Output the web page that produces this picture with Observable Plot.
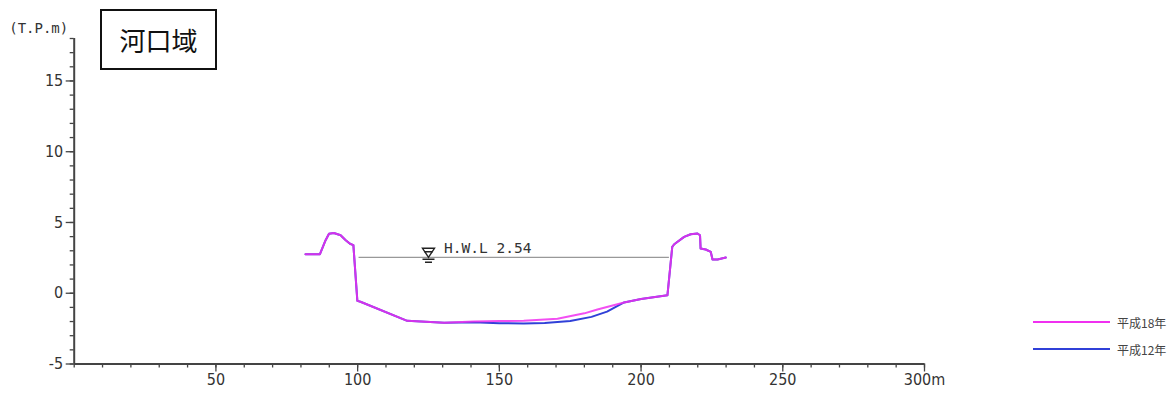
<!DOCTYPE html>
<html>
<head>
<meta charset="utf-8">
<script src="https://cdn.jsdelivr.net/npm/d3@7"></script>
<script src="https://cdn.jsdelivr.net/npm/@observablehq/plot@0.6"></script>
<style>
  body { margin: 0; background: #fff; }
  #wrap { position: relative; width: 1176px; height: 397px; overflow: hidden; }
  #title { position: absolute; left: 100px; top: 9px; width: 113px; height: 57px; border: 2px solid #111;
           font-family: "Noto Sans CJK JP", sans-serif; font-size: 26px; line-height: 57px; text-align: center; color: #111; }
  .leg { position: absolute; left: 1033px; height: 14px; display: flex; align-items: center;
         font-family: "Noto Sans CJK JP", sans-serif; font-size: 12px; color: #444; }
  .leg span.l { display: inline-block; width: 77px; height: 2.5px; margin-right: 7px; }
</style>
</head>
<body>
<div id="wrap">
  <div id="chart"></div>
  <div id="title"></div>
  <div id="legend"></div>
</div>
<script>
// ---- data ----
const seriesNames = ["平成18年", "平成12年"];
const seriesColors = ["#f030f0", "#3040d8"];

const h18X = [81.6, 86.7, 88.7, 89.9, 91.6, 94.0, 95.8, 97.3, 98.5, 99.9, 101.0, 117.5, 130.5, 141.0, 150.0, 158.6, 170.5, 180.0, 184.6, 194.0, 200.0, 209.3, 211.0, 211.7, 215.2, 217.5, 219.9, 220.8, 221.0, 222.8, 224.6, 225.2, 227.0, 229.9];
const h18Y = [2.76, 2.76, 3.75, 4.2, 4.26, 4.1, 3.75, 3.5, 3.4, -0.54, -0.6, -1.95, -2.08, -2.0, -1.97, -1.95, -1.8, -1.42, -1.15, -0.65, -0.4, -0.15, 3.27, 3.46, 3.98, 4.17, 4.22, 4.1, 3.16, 3.09, 2.92, 2.38, 2.38, 2.52];

const h12X = [81.6, 86.7, 88.7, 89.9, 91.6, 94.0, 95.8, 97.3, 98.5, 99.9, 101.0, 117.5, 130.5, 141.0, 150.0, 158.6, 166.0, 175.0, 182.5, 188.0, 194.0, 200.0, 209.3, 211.0, 211.7, 215.2, 217.5, 219.9, 220.8, 221.0, 222.8, 224.6, 225.2, 227.0, 229.9];
const h12Y = [2.76, 2.76, 3.75, 4.2, 4.26, 4.1, 3.75, 3.5, 3.4, -0.54, -0.6, -1.95, -2.08, -2.05, -2.12, -2.14, -2.1, -1.96, -1.67, -1.3, -0.65, -0.4, -0.15, 3.27, 3.46, 3.98, 4.17, 4.22, 4.1, 3.16, 3.09, 2.92, 2.38, 2.38, 2.52];

const hwlValue = 2.54;
const hwlLabel = "H.W.L 2.54";
const hwlFrom = 100.5, hwlTo = 210.0, hwlMarkX = 125, hwlTextX = 130.5;

const yMajorTicks = [-5, 0, 5, 10, 15];
const yMinorTicks = d3.range(-5, 19, 1);
const xMajorTicks = [50, 100, 150, 200, 250, 300];
const xMajorLabels = ["50", "100", "150", "200", "250", "300m"];
const xMinorTicks = d3.range(0, 301, 10);
const yUnit = "(T.P.m)";
const titleText = "河口域";

// ---- build ----
const h18 = h18X.map((x, i) => ({x, y: h18Y[i]}));
const h12 = h12X.map((x, i) => ({x, y: h12Y[i]}));

const axisFont = "'Liberation Sans Narrow', 'DejaVu Sans Condensed', 'Noto Sans', sans-serif";

const hwlSymbol = {
  draw(ctx) {
    ctx.moveTo(-6, -9); ctx.lineTo(6, -9); ctx.lineTo(0, 0); ctx.closePath();
    ctx.moveTo(-4.5, -5.5); ctx.lineTo(4.5, -5.5);
    ctx.moveTo(-6, 2); ctx.lineTo(6, 2);
    ctx.moveTo(-3.5, 5); ctx.lineTo(3.5, 5);
  }
};

const plot = Plot.plot({
  width: 1176,
  height: 397,
  marginLeft: 73.7,
  marginRight: 252,
  marginTop: 38,
  marginBottom: 33.5,
  style: {fontFamily: axisFont, background: "#fff"},
  x: {domain: [0, 300], label: null},
  y: {domain: [-5, 18], label: null},
  marks: [
    Plot.axisY({ticks: yMinorTicks, tickSize: 4, tickFormat: () => "", stroke: "#444", strokeWidth: 1.3, label: null}),
    Plot.axisX({ticks: xMinorTicks, tickSize: 4, tickFormat: () => "", stroke: "#444", strokeWidth: 1.3, label: null}),
    Plot.axisY({ticks: yMajorTicks, tickSize: 8, tickPadding: 3, tickFormat: d => String(d), fontSize: 16, fill: "#333", stroke: "#444", strokeWidth: 1.3, label: null}),
    Plot.axisX({ticks: xMajorTicks, tickSize: 8, tickPadding: 2, tickFormat: d => xMajorLabels[xMajorTicks.indexOf(d)], fontSize: 16, fill: "#333", stroke: "#444", strokeWidth: 1.3, label: null}),
    Plot.ruleX([0], {y1: -5, y2: 18, stroke: "#444", strokeWidth: 2}),
    Plot.ruleY([-5], {x1: 0, x2: 300, stroke: "#444", strokeWidth: 2}),
    Plot.text([yUnit], {frameAnchor: "top-left", dx: -65, dy: -15, textAnchor: "start", text: d => d, fontSize: 14, fill: "#333", fontFamily: "'DejaVu Sans Mono', monospace"}),
    Plot.ruleY([hwlValue], {x1: hwlFrom, x2: hwlTo, stroke: "#999", strokeWidth: 1.2}),
    Plot.dot([hwlValue], {x: () => hwlMarkX, y: d => d, symbol: hwlSymbol, stroke: "#222", strokeWidth: 1.4, fill: "none", r: 4}),
    Plot.text([hwlLabel], {x: () => hwlTextX, y: () => hwlValue, text: d => d, textAnchor: "start", dy: -9, fontSize: 14.5, fill: "#333", fontFamily: "'DejaVu Sans Mono', monospace", letterSpacing: "0.6px"}),
    Plot.line(h12, {x: "x", y: "y", stroke: seriesColors[1], strokeWidth: 2}),
    Plot.line(h18, {x: "x", y: "y", stroke: seriesColors[0], strokeWidth: 2, strokeOpacity: 0.85})
  ]
});
document.getElementById("chart").appendChild(plot);

document.getElementById("title").textContent = titleText;
const legend = document.getElementById("legend");
seriesNames.forEach((name, i) => {
  const row = document.createElement("div");
  row.className = "leg";
  row.style.top = (315 + i * 27) + "px";
  row.innerHTML = `<span class="l" style="background:${seriesColors[i]}"></span>${name}`;
  legend.appendChild(row);
});
</script>
</body>
</html>
